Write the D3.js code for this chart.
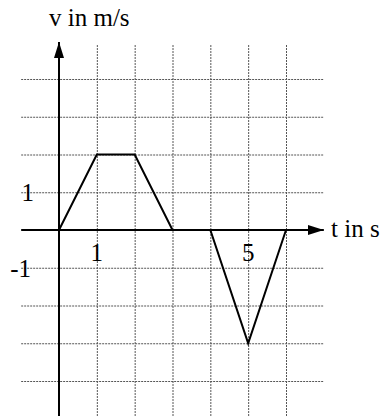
<!DOCTYPE html>
<html>
<head>
<meta charset="utf-8">
<script src="https://cdn.jsdelivr.net/npm/d3@7"></script>
<style>
  body { margin: 0; background: #fff; }
  svg { display: block; }
</style>
</head>
<body>
<div id="chart"></div>
<script>
// velocity-time data (t in s, v in m/s)
const times = [0, 1, 2, 3, 4, 5, 6];
const velocities = [0, 2, 2, 0, 0, -3, 0];

// grid positions
const gridT = [1, 2, 3, 4, 5, 6];
const gridV = [4, 3, 2, 1, -1, -2, -3, -4];

// tick labels that are printed
const xTickLabels = [1, 5];
const yTickLabels = [1, -1];

const width = 390, height = 416;
const font = "'Liberation Serif', 'Times New Roman', serif";

const svg = d3.select("#chart")
    .append("svg")
    .attr("width", width)
    .attr("height", height);

const x = d3.scaleLinear().domain([0, 6]).range([59, 286]);
const y = d3.scaleLinear().domain([0, 4]).range([230, 79]);

// dotted grid
const grid = svg.append("g")
    .attr("stroke", "#555")
    .attr("stroke-width", 1)
    .attr("stroke-dasharray", "2,1");

grid.selectAll("line.h")
    .data(gridV)
    .enter().append("line")
    .attr("class", "h")
    .attr("x1", x(-1))
    .attr("x2", x(7))
    .attr("y1", d => y(d) + 0.5)
    .attr("y2", d => y(d) + 0.5);

grid.selectAll("line.v")
    .data(gridT)
    .enter().append("line")
    .attr("class", "v")
    .attr("x1", d => x(d) + 0.5)
    .attr("x2", d => x(d) + 0.5)
    .attr("y1", y(4.9))
    .attr("y2", height);

// axes with arrows
svg.append("defs").append("marker")
    .attr("id", "arrow")
    .attr("viewBox", "0 -5 16 10")
    .attr("refX", 16)
    .attr("refY", 0)
    .attr("orient", "auto")
    .attr("markerUnits", "userSpaceOnUse")
    .attr("markerWidth", 16)
    .attr("markerHeight", 10)
    .append("path")
    .attr("d", "M0,-5L16,0L0,5Z")
    .attr("fill", "#000");

svg.append("line")
    .attr("x1", x(-1)).attr("x2", x(7))
    .attr("y1", y(0)).attr("y2", y(0))
    .attr("stroke", "#000")
    .attr("stroke-width", 2)
    .attr("marker-end", "url(#arrow)");

svg.append("line")
    .attr("x1", x(0)).attr("x2", x(0))
    .attr("y1", height).attr("y2", 42)
    .attr("stroke", "#000")
    .attr("stroke-width", 2)
    .attr("marker-end", "url(#arrow)");

// the velocity curve
const line = d3.line()
    .x((d, i) => x(times[i]))
    .y(d => y(d));

svg.append("path")
    .datum(velocities)
    .attr("d", line)
    .attr("fill", "none")
    .attr("stroke", "#000")
    .attr("stroke-width", 2)
    .attr("stroke-linejoin", "miter");

// labels
svg.selectAll("text.xt")
    .data(xTickLabels)
    .enter().append("text")
    .attr("class", "xt")
    .attr("x", d => x(d))
    .attr("y", y(0) + 31)
    .attr("text-anchor", "middle")
    .style("font-family", font)
    .style("font-size", "25px")
    .text(d => d);

svg.selectAll("text.yt")
    .data(yTickLabels)
    .enter().append("text")
    .attr("class", "yt")
    .attr("x", d => d < 0 ? 31 : 34)
    .attr("y", d => y(d) + 9)
    .attr("text-anchor", "end")
    .style("font-family", font)
    .style("font-size", "25px")
    .text(d => d);

svg.append("text")
    .attr("x", 49)
    .attr("y", 26)
    .style("font-family", font)
    .style("font-size", "25px")
    .text("v in m/s");

svg.append("text")
    .attr("x", 331)
    .attr("y", 237)
    .style("font-family", font)
    .style("font-size", "25px")
    .text("t in s");
</script>
</body>
</html>
